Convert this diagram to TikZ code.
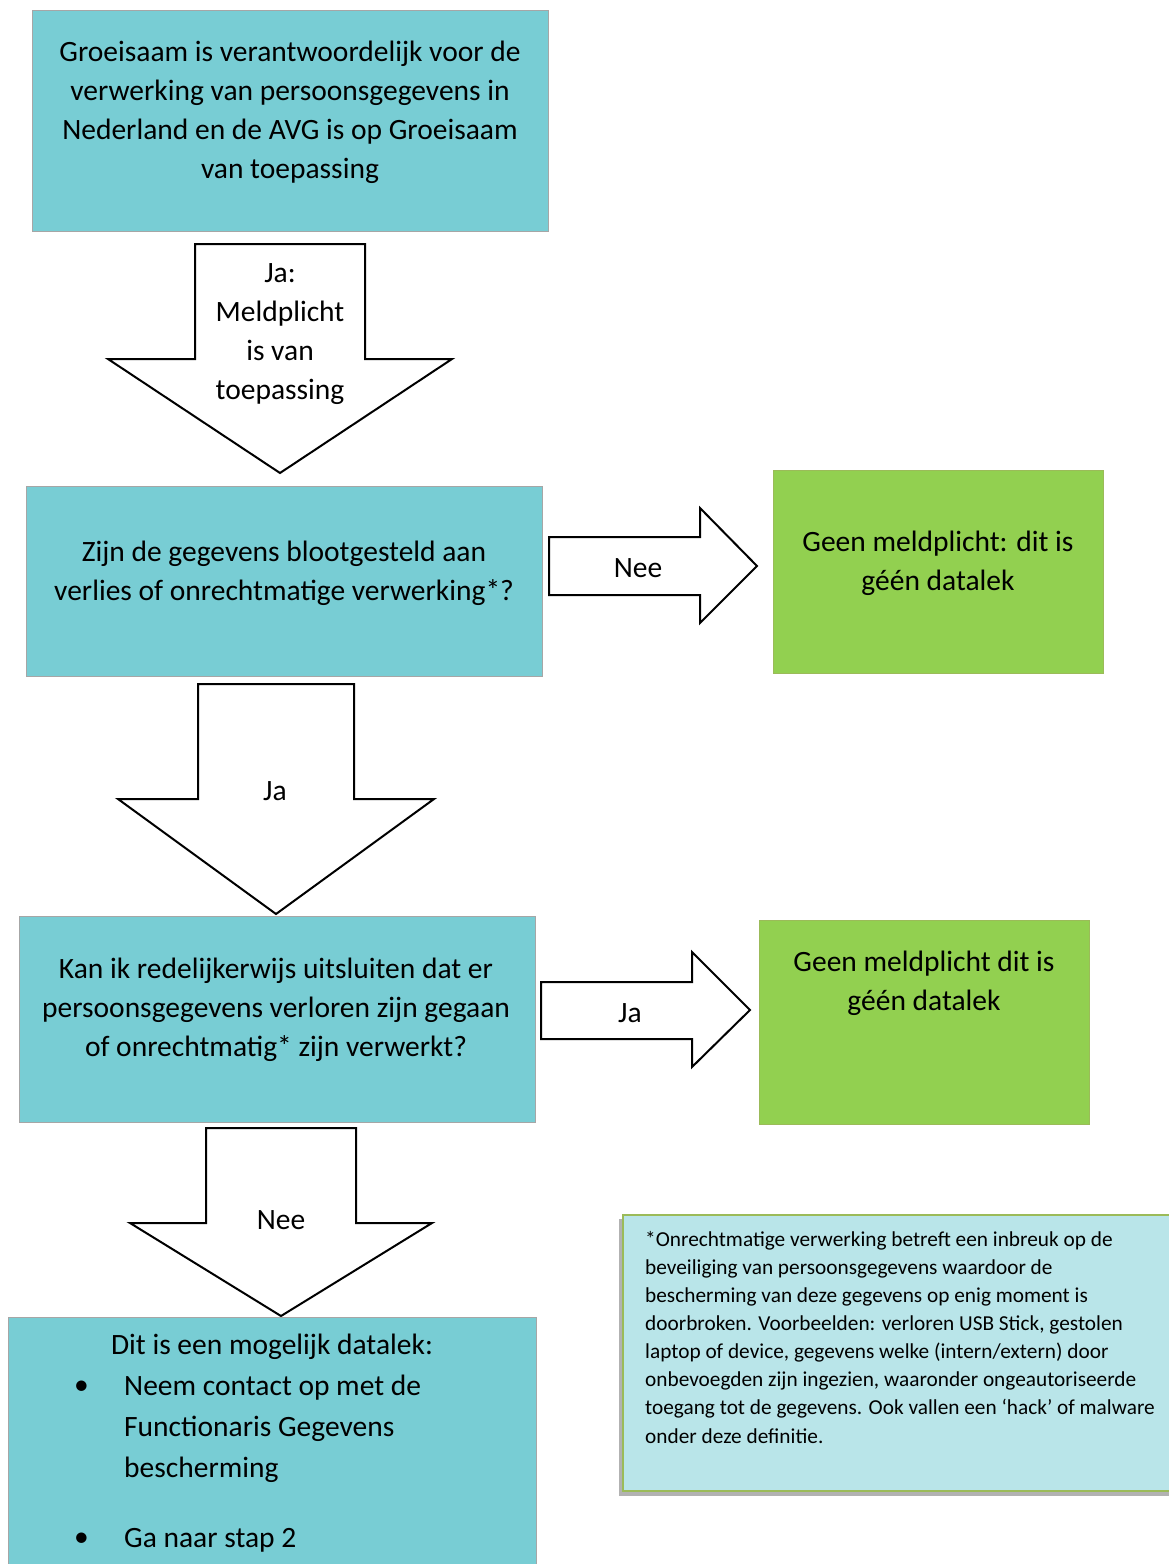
\documentclass[tikz,border=0pt]{standalone}
\usepackage{fontspec}
\setmainfont{Carlito}
\definecolor{teal1}{HTML}{78CDD4}
\definecolor{green1}{HTML}{92D050}
\definecolor{note1}{HTML}{B9E5E9}
\definecolor{notebd}{HTML}{9BBB59}
\begin{document}
\begin{tikzpicture}[x=1pt,y=-1pt,
  tbox/.style={draw=black!35,line width=1pt,fill=teal1},
  gbox/.style={draw=notebd,line width=1pt,fill=green1},
  blk/.style={draw=black,line width=2pt,fill=white,line join=miter},
  main/.style={inner sep=0pt,align=center,font=\fontsize{29.5}{39}\selectfont},
  lab/.style={inner sep=0pt,font=\fontsize{29.5}{39}\selectfont},
  notetxt/.style={inner sep=0pt,align=left,anchor=north west,font=\fontsize{21.3}{28.1}\selectfont}]
\useasboundingbox (0,0) rectangle (1169,1564);
% Box 1
\draw[tbox] (32,10) rectangle (548,231);
\node[main] (t1) at (290,112) {Groeisaam is verantwoordelijk voor de\\verwerking van persoonsgegevens in\\Nederland en de AVG is op Groeisaam\\van toepassing};
% Arrow 1
\draw[blk] (195,244) -- (365,244) -- (365,359) -- (452,359) -- (280,473) -- (108,359) -- (195,359) -- cycle;
\node[main] (a1) at (280,334) {Ja:\\Meldplicht\\is van\\toepassing};
% Box 2
\draw[tbox] (26,486) rectangle (542,676);
\node[main] (t2) at (284,573) {Zijn de gegevens blootgesteld aan\\verlies of onrechtmatige verwerking*?};
% Right arrow 1
\draw[blk] (549,537) -- (700,537) -- (700,508) -- (757,566) -- (700,623) -- (700,595) -- (549,595) -- cycle;
\node[lab] (n1) at (638,568) {Nee};
% Green box 1
\draw[gbox] (773,470) rectangle (1103,673);
\node[main] (g1) at (938,563) {Geen meldplicht: dit is\\géén datalek};
% Arrow 2
\draw[blk] (198,684) -- (354,684) -- (354,799) -- (434,799) -- (276,914) -- (118,799) -- (198,799) -- cycle;
\node[lab] (a2) at (275,791) {Ja};
% Box 3
\draw[tbox] (19,916) rectangle (535,1122);
\node[main] (t3) at (276,1010) {Kan ik redelijkerwijs uitsluiten dat er\\persoonsgegevens verloren zijn gegaan\\of onrechtmatig* zijn verwerkt?};
% Right arrow 2
\draw[blk] (541,982) -- (692,982) -- (692,952) -- (750,1010) -- (692,1067) -- (692,1039) -- (541,1039) -- cycle;
\node[lab] (a3) at (630,1013) {Ja};
% Green box 2
\draw[gbox] (759,920) rectangle (1089,1124);
\node[main] (g2) at (924,983) {Geen meldplicht dit is\\géén datalek};
% Arrow 3
\draw[blk] (206,1128) -- (356,1128) -- (356,1223) -- (432,1223) -- (281,1316) -- (130,1223) -- (206,1223) -- cycle;
\node[lab] (a4) at (281,1220) {Nee};
% Box 4
\draw[tbox] (8,1317) rectangle (536,1580);
\node[lab] (t4) at (272,1347) {Dit is een mogelijk datalek:};
\node[lab,anchor=west] (b1) at (74,1388) {•};
\node[lab,anchor=west] (l1) at (124,1388) {Neem contact op met de};
\node[lab,anchor=west] (l2) at (124,1429) {Functionaris Gegevens};
\node[lab,anchor=west] (l3) at (124,1470) {bescherming};
\node[lab,anchor=west] (b2) at (74,1540) {•};
\node[lab,anchor=west] (l4) at (124,1540) {Ga naar stap 2};
% Note box
\fill[black!30] (619,1219) rectangle (1180,1496);
\draw[draw=notebd,line width=1.5pt,fill=note1] (623,1215) rectangle (1180,1491);
\node[notetxt] (nt) at (645,1231) {*Onrechtmatige verwerking betreft een inbreuk op de\\beveiliging van persoonsgegevens waardoor de\\bescherming van deze gegevens op enig moment is\\doorbroken. Voorbeelden: verloren USB Stick, gestolen\\laptop of device, gegevens welke (intern/extern) door\\onbevoegden zijn ingezien, waaronder ongeautoriseerde\\toegang tot de gegevens. Ook vallen een ‘hack’ of malware\\onder deze definitie.};
\end{tikzpicture}
\end{document}
